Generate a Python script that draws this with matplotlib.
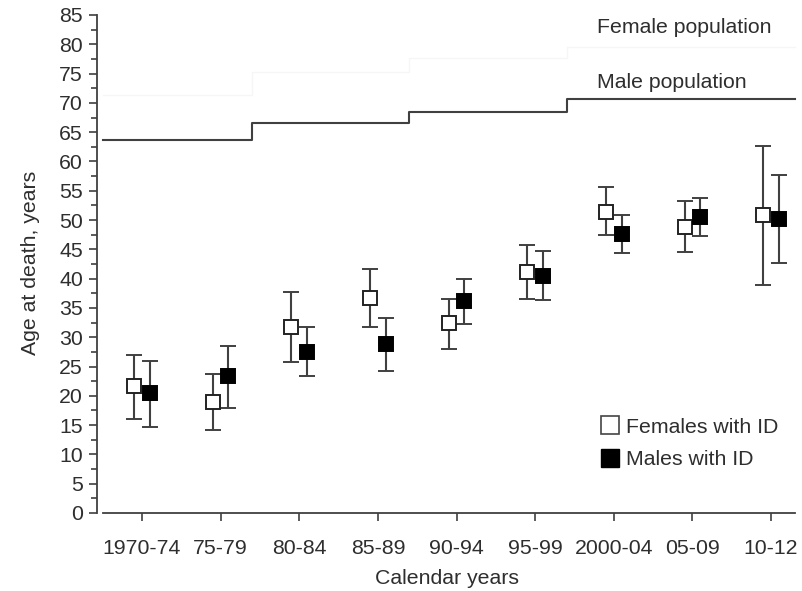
import numpy as np
import matplotlib
matplotlib.use("Agg")
import matplotlib.pyplot as plt
from matplotlib.ticker import MultipleLocator
from matplotlib.lines import Line2D

plt.rcParams['font.family'] = ['Liberation Sans', 'DejaVu Sans']

# Calendar periods on the x axis
periods = ['1970-74', '75-79', '80-84', '85-89', '90-94', '95-99', '2000-04', '05-09', '10-12']

# Mean age at death with 95% CI, people with intellectual disability
fem_mean = [21.6, 18.9, 31.7, 36.7, 32.4, 41.2, 51.4, 48.8, 50.9]
fem_low = [16.0, 14.1, 25.8, 31.7, 28.0, 36.6, 47.4, 44.5, 39.0]
fem_high = [27.0, 23.7, 37.7, 41.6, 36.6, 45.7, 55.6, 53.2, 62.7]

male_mean = [20.4, 23.3, 27.4, 28.8, 36.1, 40.5, 47.6, 50.6, 50.1]
male_low = [14.7, 18.0, 23.4, 24.3, 32.2, 36.3, 44.3, 47.3, 42.6]
male_high = [26.0, 28.5, 31.7, 33.3, 40.0, 44.8, 50.8, 53.8, 57.7]

# General population, step lines (edges on the period axis)
pop_edges = [-0.5, 1.4, 3.4, 5.4, 8.3]
male_pop = [63.6, 66.6, 68.4, 70.6]
female_pop = [71.3, 75.2, 77.6, 79.6]

dark = '#404040'
txt = '#2e2e2e'
fs = 15.3
x = np.arange(len(periods))

fig = plt.figure(figsize=(8.02, 5.91), dpi=100)
ax = fig.add_axes([97 / 802, 78 / 591, 700 / 802, 0.8476])

# population lines (female line is almost lost in the source image)
ax.step(pop_edges, male_pop + [male_pop[-1]], where='post', color=dark, lw=1.5)
ax.step(pop_edges, female_pop + [female_pop[-1]], where='post', color='#f6f6f6', lw=1.0)
ax.text(5.79, 82.8, 'Female population', fontsize=fs, color=txt, va='center')
ax.text(5.79, 73.4, 'Male population', fontsize=fs, color=txt, va='center')

off = 0.1
ax.errorbar(x - off, fem_mean,
            yerr=[np.array(fem_mean) - np.array(fem_low), np.array(fem_high) - np.array(fem_mean)],
            fmt='s', ms=9.5, mfc='white', mec='#222222', mew=1.4,
            ecolor=dark, elinewidth=1.5, capsize=5.5, capthick=1.5, zorder=3)
ax.errorbar(x + off, male_mean,
            yerr=[np.array(male_mean) - np.array(male_low), np.array(male_high) - np.array(male_mean)],
            fmt='s', ms=9.5, mfc='black', mec='black', mew=1.4,
            ecolor=dark, elinewidth=1.5, capsize=5.5, capthick=1.5, zorder=3)

handles = [Line2D([], [], ls='none', marker='s', ms=13, mfc='white', mec='#444444', mew=1.2),
           Line2D([], [], ls='none', marker='s', ms=13, mfc='black', mec='black')]
ax.legend(handles, ['Females with ID', 'Males with ID'], loc='upper left',
          bbox_to_anchor=(0.72, 0.19), frameon=False, fontsize=fs,
          handlelength=0.8, handletextpad=0.4, borderpad=0, borderaxespad=0,
          labelspacing=0.62, labelcolor=txt)

ax.set_xlim(-0.572, 8.33)
ax.set_ylim(0, 85.5)
ax.set_xticks(x)
ax.set_xticklabels(periods)
ax.yaxis.set_major_locator(MultipleLocator(5))
ax.yaxis.set_minor_locator(MultipleLocator(2.5))

for s in ['top', 'right']:
    ax.spines[s].set_visible(False)
ax.spines['left'].set_bounds(0, 85)
ax.spines['bottom'].set_bounds(-0.5, 8.31)
for s in ['left', 'bottom']:
    ax.spines[s].set_color(dark)
    ax.spines[s].set_linewidth(1.3)

ax.tick_params(axis='both', colors=dark, labelcolor=txt, labelsize=fs,
               width=1.2, length=6)
ax.tick_params(axis='y', which='minor', colors=dark, width=1.2, length=4)
ax.tick_params(axis='x', pad=13)
ax.tick_params(axis='y', pad=4)

ax.set_xlabel('Calendar years', fontsize=fs, color=txt, labelpad=8)
ax.set_ylabel('Age at death, years', fontsize=fs, color=txt, labelpad=14)

fig.savefig('out.png', dpi=100)
